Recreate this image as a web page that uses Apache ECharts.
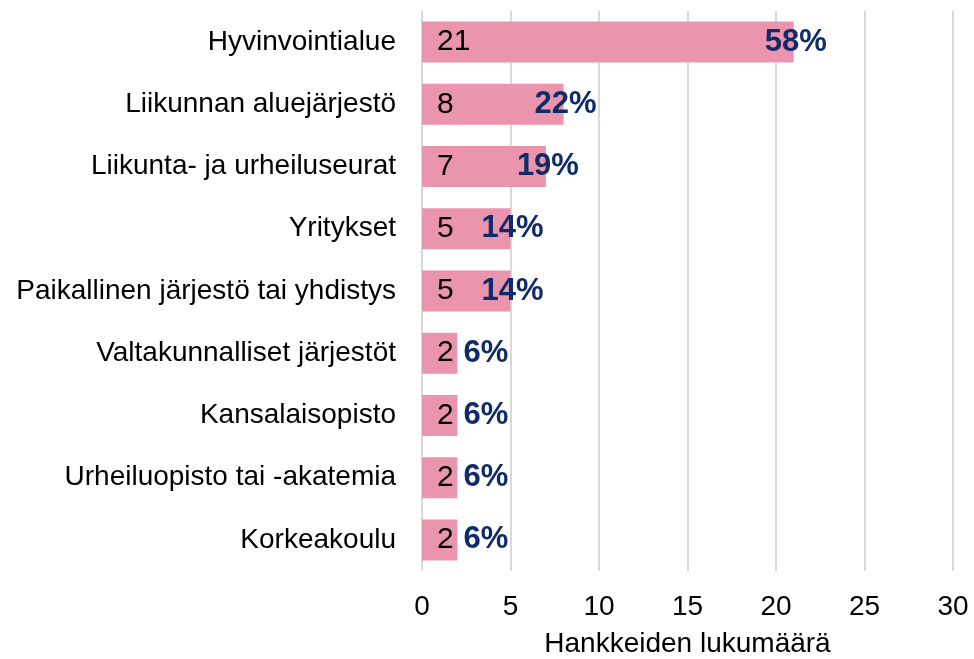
<!DOCTYPE html>
<html style="height: 100%">
<head>
  <meta charset="UTF-8" />
  <title>Hankkeiden lukumäärä</title>
  <script src="https://cdn.jsdelivr.net/npm/echarts@6/dist/echarts.min.js"></script>
  <style>
    body {
      margin: 0;
      background: #ffffff;
    }
    #main {
      width: 974px;
      height: 659px;
    }
  </style>
</head>
<body>
  <div id="main"></div>
  <script>
    const categories = [
      'Hyvinvointialue',
      'Liikunnan aluejärjestö',
      'Liikunta- ja urheiluseurat',
      'Yritykset',
      'Paikallinen järjestö tai yhdistys',
      'Valtakunnalliset järjestöt',
      'Kansalaisopisto',
      'Urheiluopisto tai -akatemia',
      'Korkeakoulu'
    ];
    const counts = [21, 8, 7, 5, 5, 2, 2, 2, 2];
    const percents = [58, 22, 19, 14, 14, 6, 6, 6, 6];

    const font = 'Liberation Sans, Arial, sans-serif';
    let chart = echarts.init(document.getElementById('main'));

    chart.setOption({
      animation: false,
      grid: { left: 422, right: 21, top: 11, bottom: 88, outerBoundsMode: 'none', containLabel: false },
      xAxis: {
        type: 'value',
        min: 0,
        max: 30,
        interval: 5,
        axisLine: { show: false },
        axisTick: { show: false },
        splitLine: { lineStyle: { color: '#d9d9d9', width: 2 } },
        axisLabel: { fontSize: 28, color: '#000', fontFamily: font, margin: 22 },
        name: 'Hankkeiden lukumäärä',
        nameLocation: 'middle',
        nameGap: 59,
        nameTextStyle: { fontSize: 28, color: '#000', fontFamily: font }
      },
      yAxis: {
        type: 'category',
        data: categories,
        inverse: true,
        axisLine: { show: false },
        axisTick: { show: false },
        axisLabel: { fontSize: 28, color: '#000', fontFamily: font, margin: 26 }
      },
      series: [
        {
          type: 'bar',
          data: counts,
          barWidth: 41,
          itemStyle: { color: '#ea95ad' },
          label: {
            show: true,
            position: 'insideLeft',
            distance: 15,
            fontSize: 30,
            color: '#000',
            fontFamily: font
          },
          z: 2
        },
        {
          type: 'scatter',
          symbolSize: 0,
          itemStyle: { opacity: 1 },
          data: counts.map((c, i) => ({
            value: [c, i],
            label: c < 3 ? { position: 'right', distance: 6, offset: [0, 0] } : {}
          })),
          label: {
            show: true,
            position: 'inside',
            offset: [2, 0],
            formatter: p => percents[p.dataIndex] + '%',
            fontSize: 31,
            fontWeight: 'bold',
            color: '#0f2b68',
            fontFamily: font
          },
          z: 3
        }
      ]
    });
  </script>
</body>
</html>
